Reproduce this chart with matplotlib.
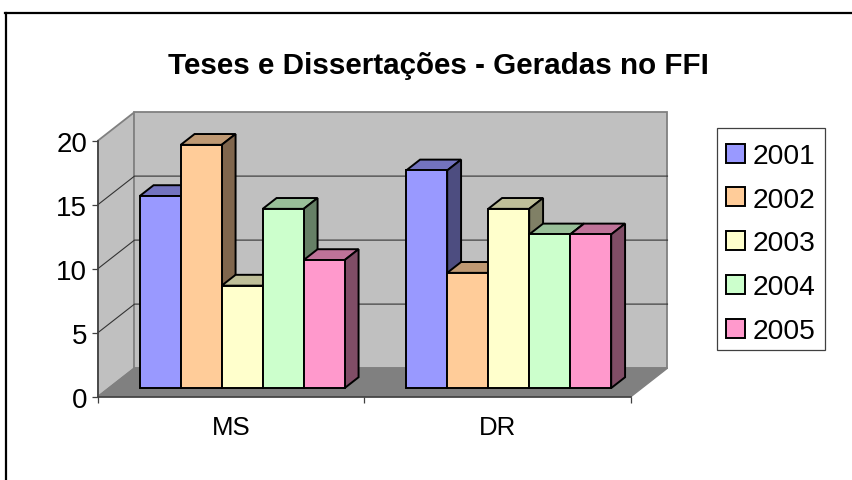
import matplotlib
matplotlib.use("Agg")
import matplotlib.pyplot as plt
from matplotlib.lines import Line2D
from matplotlib.patches import Patch, Rectangle

categories = ["MS", "DR"]
years = ["2001", "2002", "2003", "2004", "2005"]
values_2001 = [15, 17]
values_2002 = [19, 9]
values_2003 = [8, 14]
values_2004 = [14, 12]
values_2005 = [10, 12]
series = [values_2001, values_2002, values_2003, values_2004, values_2005]
colors = ["#9999FF", "#FFCC99", "#FFFFCC", "#CCFFCC", "#FF99CC"]
y_ticks = [0, 5, 10, 15, 20]

W, H = 853, 481
plt.rcParams["font.family"] = ["Liberation Sans", "DejaVu Sans"]
fig = plt.figure(figsize=(W / 100, H / 100), dpi=100, facecolor="white")
L, R, T, B = 98, 631, 141.6, 397.6
ax = fig.add_axes([L / W, 1 - B / H, (R - L) / W, (B - T) / H])
ax.set_xlim(0, 2)
ax.set_ylim(0, 20)
ax.patch.set_visible(False)

# depth of the 3D box, in data units
DX = 36.5 / ((R - L) / 2)
DY = 28.5 / ((B - T) / 20)


def proj(x, y, z):
    return x + z * DX, y + z * DY


def poly(pts, fc, ec, lw, zo):
    xy = [proj(*p) for p in pts]
    ax.fill([p[0] for p in xy], [p[1] for p in xy], facecolor=fc, edgecolor=ec,
            linewidth=lw, clip_on=False, zorder=zo, joinstyle="miter")


# walls and floor
poly([(0, 0, 0), (0, 20, 0), (0, 20, 1), (0, 0, 1)], "#C0C0C0", "#808080", 1.3, 1)
poly([(0, 0, 1), (0, 20, 1), (2, 20, 1), (2, 0, 1)], "#C0C0C0", "#808080", 1.3, 1)
poly([(0, 0, 0), (2, 0, 0), (2, 0, 1), (0, 0, 1)], "#808080", "#808080", 1.0, 1)

# gridlines
for v in y_ticks[1:-1]:
    xs, ys = zip(proj(0, v, 0), proj(0, v, 1), proj(2, v, 1))
    ax.plot(xs, ys, color="#333333", lw=0.8, clip_on=False, zorder=2)

# bars
bar_w = 41 / ((R - L) / 2)
z0, z1 = 0.3, 0.68
gap = (1 - 5 * bar_w) / 2
zo = 3
for c in range(len(categories)):
    for s, vals in enumerate(series):
        v = vals[c]
        x0 = c + gap + s * bar_w
        x1 = x0 + bar_w
        col = matplotlib.colors.to_rgb(colors[s])
        top = tuple(k * 0.75 for k in col)
        side = tuple(k * 0.5 for k in col)
        poly([(x0, v, z0), (x1, v, z0), (x1, v, z1), (x0, v, z1)], top, "black", 1.4, zo)
        poly([(x1, 0, z0), (x1, v, z0), (x1, v, z1), (x1, 0, z1)], side, "black", 1.4, zo)
        fx, fy = proj(x0, 0, z0)
        ax.bar(fx, v, width=bar_w, bottom=fy, align="edge", color=colors[s],
               edgecolor="black", linewidth=1.4, clip_on=False, zorder=zo + 0.5)
        zo += 1

# axes
for name in ("top", "right"):
    ax.spines[name].set_visible(False)
for name in ("left", "bottom"):
    ax.spines[name].set_color("#404040")
    ax.spines[name].set_linewidth(1.2)
    ax.spines[name].set_zorder(2.5)
ax.set_yticks(y_ticks)
ax.tick_params(axis="y", length=4.3, width=0.9, color="#404040", labelsize=20, pad=3.6)
ax.set_xticks([0, 1, 2])
ax.set_xticklabels([])
ax.set_xticks([0.5, 1.5], minor=True)
ax.set_xticklabels(categories, minor=True)
ax.tick_params(axis="x", which="major", length=4.5, width=0.9, color="#404040")
ax.tick_params(axis="x", which="minor", length=0, labelsize=18.5, pad=13.6)

# title
fig.text(438 / W, 1 - 74 / H, "Teses e Dissertações - Geradas no FFI", ha="center",
         va="baseline", fontsize=21.3, fontweight="bold", color="black")

# legend
fig.add_artist(Rectangle((717 / W, 1 - 351 / H), 108 / W, 222 / H, facecolor="white",
                         edgecolor="#404040", linewidth=0.9,
                         transform=fig.transFigure))
handles = [Patch(facecolor=c, edgecolor="black", linewidth=1.4, label=y)
           for c, y in zip(colors, years)]
leg = fig.legend(handles=handles, loc="center left",
                 bbox_to_anchor=(726 / W, 1 - 244.5 / H), fontsize=20.3,
                 frameon=False, handlelength=0.66, handleheight=0.66,
                 handletextpad=0.28, labelspacing=0.63, borderpad=0,
                 borderaxespad=0)

# outer frame (only top and left visible)
fig.add_artist(Line2D([6.3 / W, 6.3 / W], [0, 1 - 13.7 / H], color="black", lw=1.6))
fig.add_artist(Line2D([5.5 / W, 1], [1 - 13.7 / H, 1 - 13.7 / H], color="black", lw=1.6))

fig.savefig("out.png", dpi=100)
